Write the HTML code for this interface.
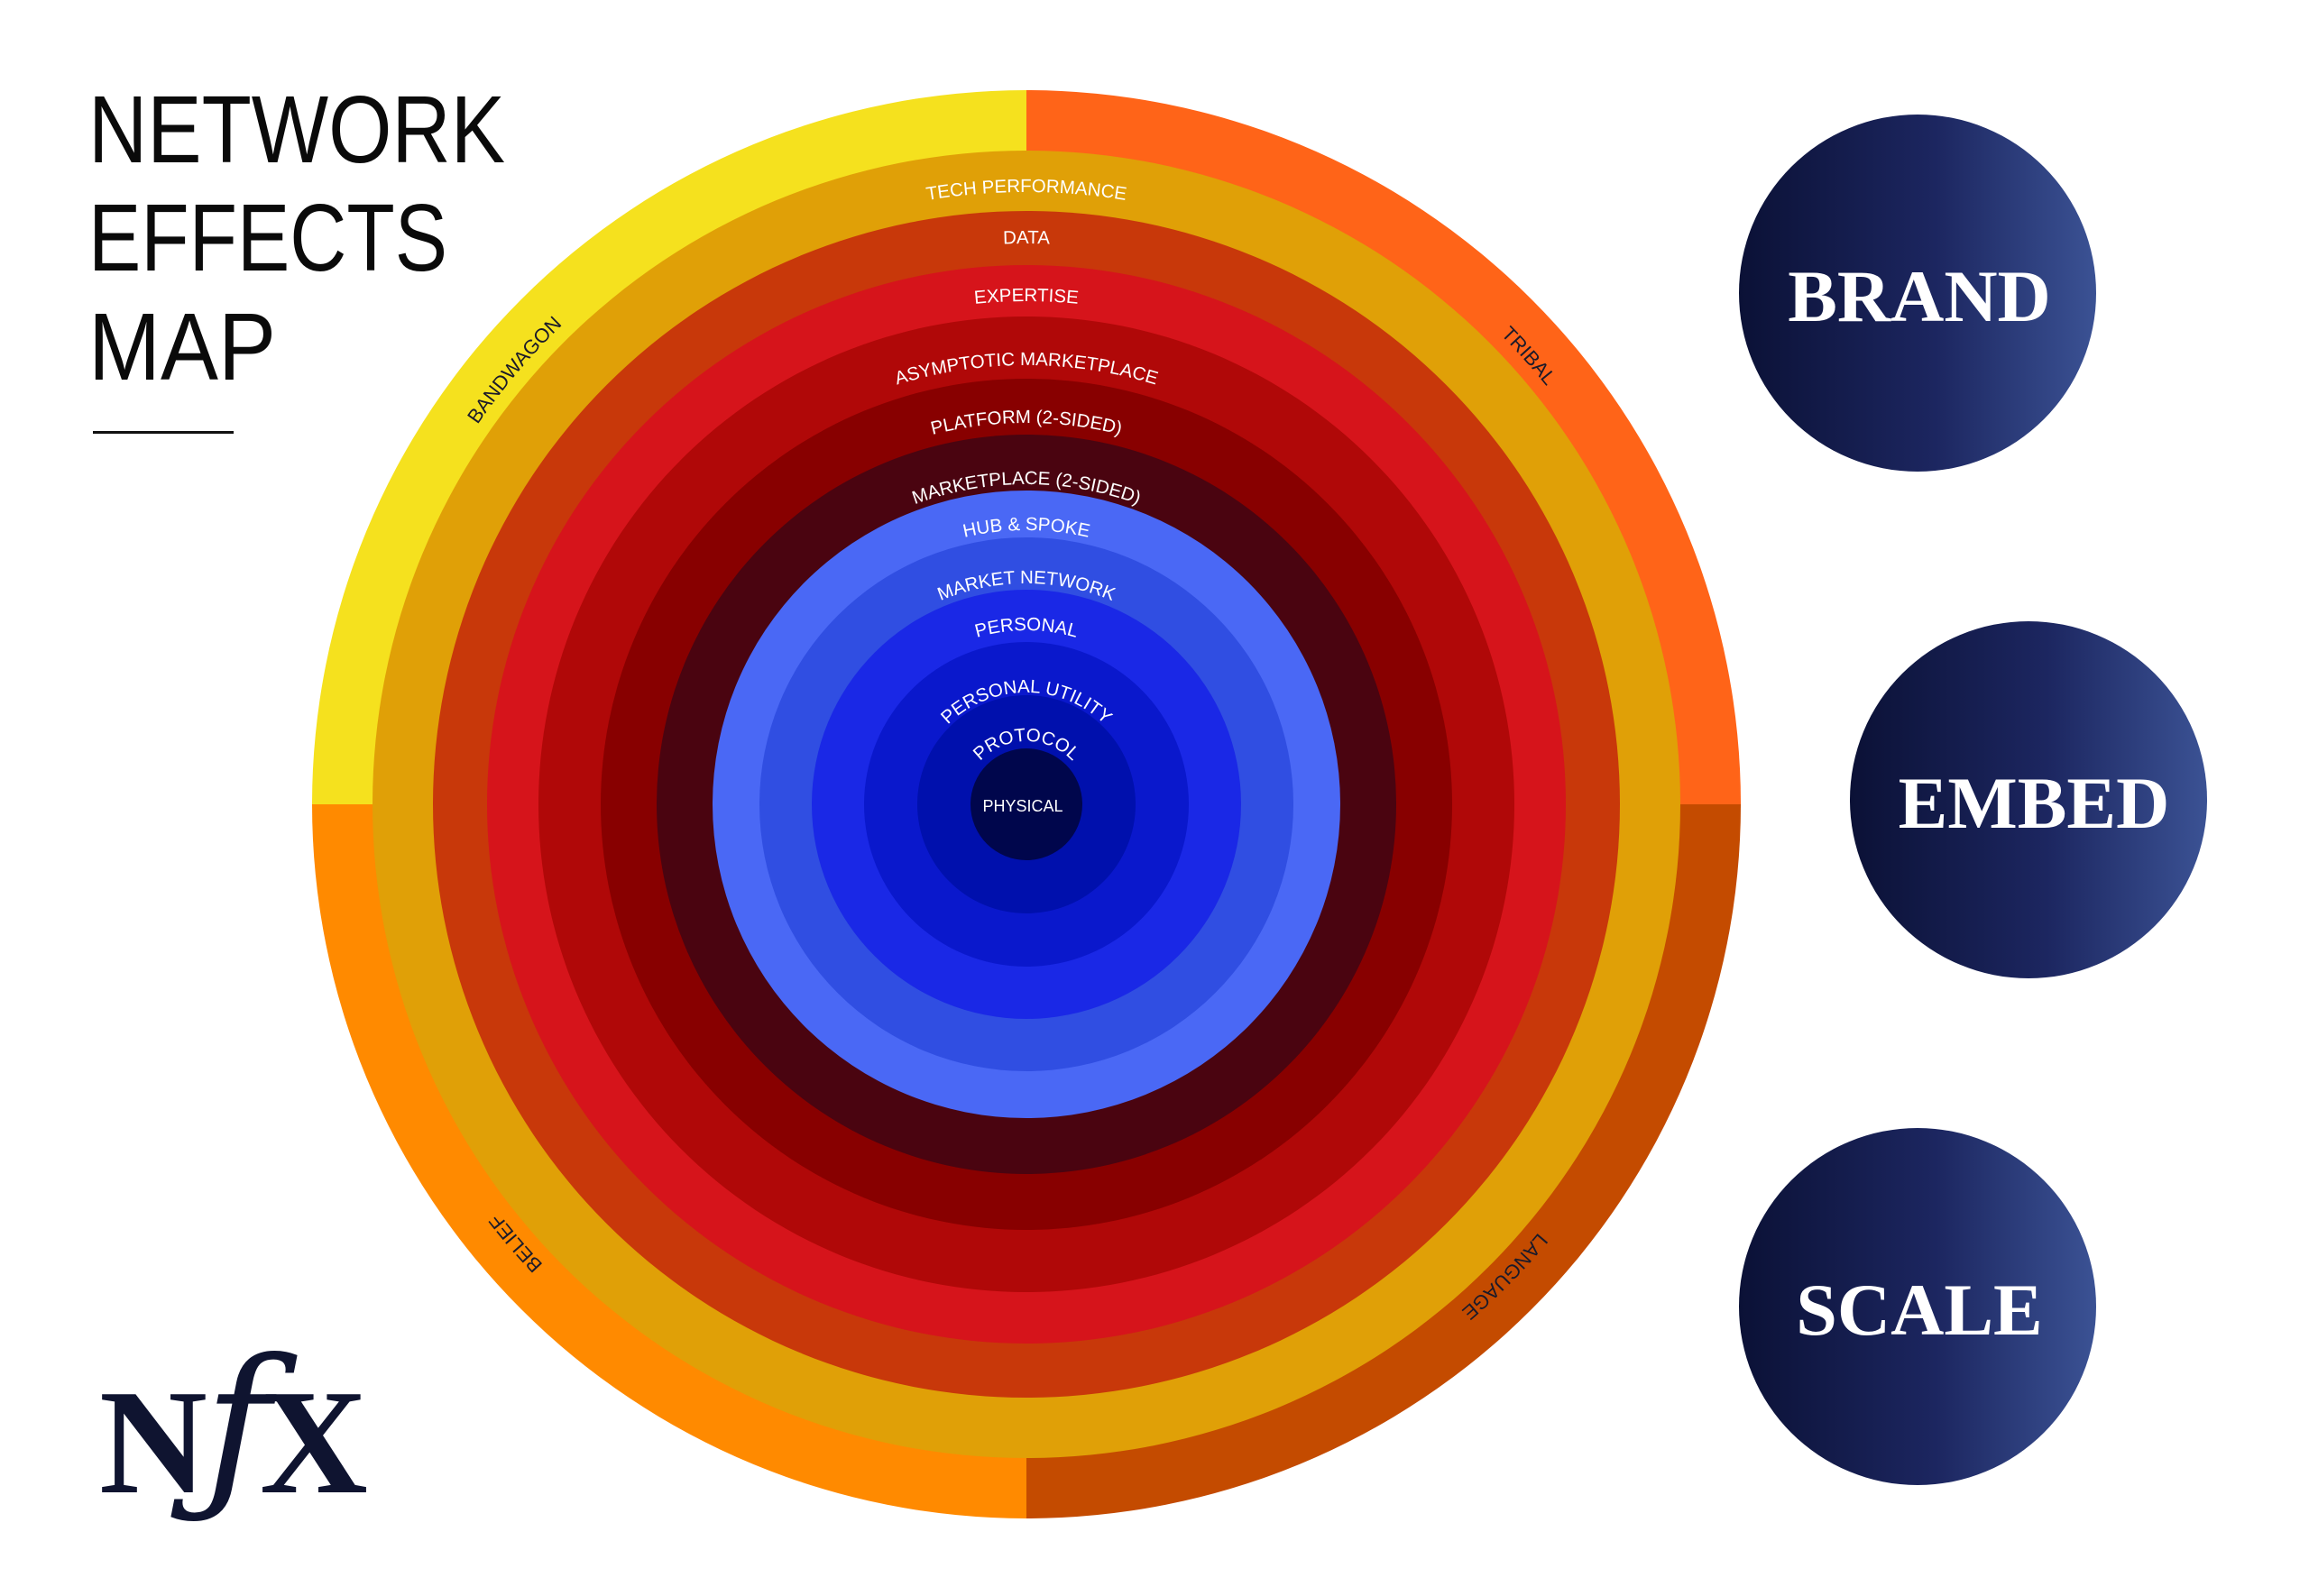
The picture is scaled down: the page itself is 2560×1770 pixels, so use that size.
<!DOCTYPE html>
<html><head><meta charset="utf-8"><style>html,body{margin:0;padding:0;background:#fff}svg{display:block}</style></head>
<body>
<svg width="2560" height="1770" viewBox="0 0 2560 1770" xmlns="http://www.w3.org/2000/svg">
<defs>
<linearGradient id="g" x1="0" y1="0" x2="1" y2="0"><stop offset="0" stop-color="#0b1136"/><stop offset="0.55" stop-color="#1c2660"/><stop offset="1" stop-color="#3b5294"/></linearGradient>
<path id="outer" d="M1138,1632 A740,740 0 1 1 1138,152 A740,740 0 1 1 1138,1632"/>
<path id="p1" d="M459,892 A679,679 0 0 1 1817,892"/>
<path id="p2" d="M516,892 A622,622 0 0 1 1760,892"/>
<path id="p3" d="M580,892 A558,558 0 0 1 1696,892"/>
<path id="p4" d="M651,892 A487,487 0 0 1 1625,892"/>
<path id="p5" d="M715,892 A423,423 0 0 1 1561,892"/>
<path id="p6" d="M783,892 A355,355 0 0 1 1493,892"/>
<path id="p7" d="M834,892 A304,304 0 0 1 1442,892"/>
<path id="p8" d="M893,892 A245,245 0 0 1 1383,892"/>
<path id="p9" d="M945,892 A193,193 0 0 1 1331,892"/>
<path id="p10" d="M1014,892 A124,124 0 0 1 1262,892"/>
<path id="p11" d="M1068,892 A70,70 0 0 1 1208,892"/>
</defs>
<rect width="2560" height="1770" fill="#fff"/>
<path d="M1138,892 L346,892 A792,792 0 0 1 1138,100 Z" fill="#f5e11e"/>
<path d="M1138,892 L1138,100 A792,792 0 0 1 1930,892 Z" fill="#ff6418"/>
<path d="M1138,892 L1930,892 A792,792 0 0 1 1138,1684 Z" fill="#c44b00"/>
<path d="M1138,892 L1138,1684 A792,792 0 0 1 346,892 Z" fill="#ff8a00"/>
<circle cx="1138" cy="892" r="725" fill="#e0a007"/>
<circle cx="1138" cy="892" r="658" fill="#c8380a"/>
<circle cx="1138" cy="892" r="598" fill="#d6141b"/>
<circle cx="1138" cy="892" r="541" fill="#b00808"/>
<circle cx="1138" cy="892" r="472" fill="#880000"/>
<circle cx="1138" cy="892" r="410" fill="#4a0410"/>
<circle cx="1138" cy="892" r="348" fill="#4a68f5"/>
<circle cx="1138" cy="892" r="296" fill="#304ee2"/>
<circle cx="1138" cy="892" r="238" fill="#1a28e6"/>
<circle cx="1138" cy="892" r="180" fill="#0a18cc"/>
<circle cx="1138" cy="892" r="121" fill="#0010ad"/>
<circle cx="1138" cy="892" r="62" fill="#00064c"/>
<g font-family="Liberation Sans, sans-serif" font-size="20.5" fill="#fff" text-anchor="middle">
<text><textPath href="#p1" startOffset="50%">TECH PERFORMANCE</textPath></text>
<text><textPath href="#p2" startOffset="50%">DATA</textPath></text>
<text><textPath href="#p3" startOffset="50%">EXPERTISE</textPath></text>
<text><textPath href="#p4" startOffset="50%">ASYMPTOTIC MARKETPLACE</textPath></text>
<text><textPath href="#p5" startOffset="50%">PLATFORM (2-SIDED)</textPath></text>
<text><textPath href="#p6" startOffset="50%">MARKETPLACE (2-SIDED)</textPath></text>
<text><textPath href="#p7" startOffset="50%">HUB &amp; SPOKE</textPath></text>
<text><textPath href="#p8" startOffset="50%">MARKET NETWORK</textPath></text>
<text><textPath href="#p9" startOffset="50%">PERSONAL</textPath></text>
<text><textPath href="#p10" startOffset="50%">PERSONAL UTILITY</textPath></text>
<text><textPath href="#p11" startOffset="50%">PROTOCOL</textPath></text>
<text x="1134" y="900" font-size="18">PHYSICAL</text>
</g>
<g font-family="Liberation Sans, sans-serif" font-size="22" fill="#1a1a2a" text-anchor="middle">
<text><textPath href="#outer" startOffset="36.2%">BANDWAGON</textPath></text>
<text><textPath href="#outer" startOffset="63.4%">TRIBAL</textPath></text>
<text><textPath href="#outer" startOffset="13.7%">BELIEF</textPath></text>
<text><textPath href="#outer" startOffset="87.4%">LANGUAGE</textPath></text>
</g>
<g font-family="Liberation Sans, sans-serif" font-size="106" fill="#0a0a0a">
<text x="98" y="180" textLength="462" lengthAdjust="spacingAndGlyphs">NETWORK</text>
<text x="98" y="300" textLength="398" lengthAdjust="spacingAndGlyphs">EFFECTS</text>
<text x="98" y="421" textLength="208" lengthAdjust="spacingAndGlyphs">MAP</text>
</g>
<rect x="103" y="478" width="156" height="3" fill="#111"/>
<circle cx="2126" cy="325" r="198" fill="url(#g)"/>
<circle cx="2249" cy="887" r="198" fill="url(#g)"/>
<circle cx="2126" cy="1449" r="198" fill="url(#g)"/>
<g font-family="Liberation Serif, serif" font-weight="bold" font-size="82" fill="#fff" text-anchor="middle">
<text x="2128" y="356">BRAND</text>
<text x="2255" y="918">EMBED</text>
<text x="2128" y="1480">SCALE</text>
</g>
<g font-family="Liberation Serif, serif" font-weight="bold" fill="#0f1430">
<text x="110" y="1655" font-size="166">N</text>
<text x="288" y="1655" font-size="166">X</text>
<text x="226" y="1650" font-size="200" font-style="italic" font-weight="normal" font-family="DejaVu Serif, serif">ƒ</text>
</g>
</svg>
</body></html>
